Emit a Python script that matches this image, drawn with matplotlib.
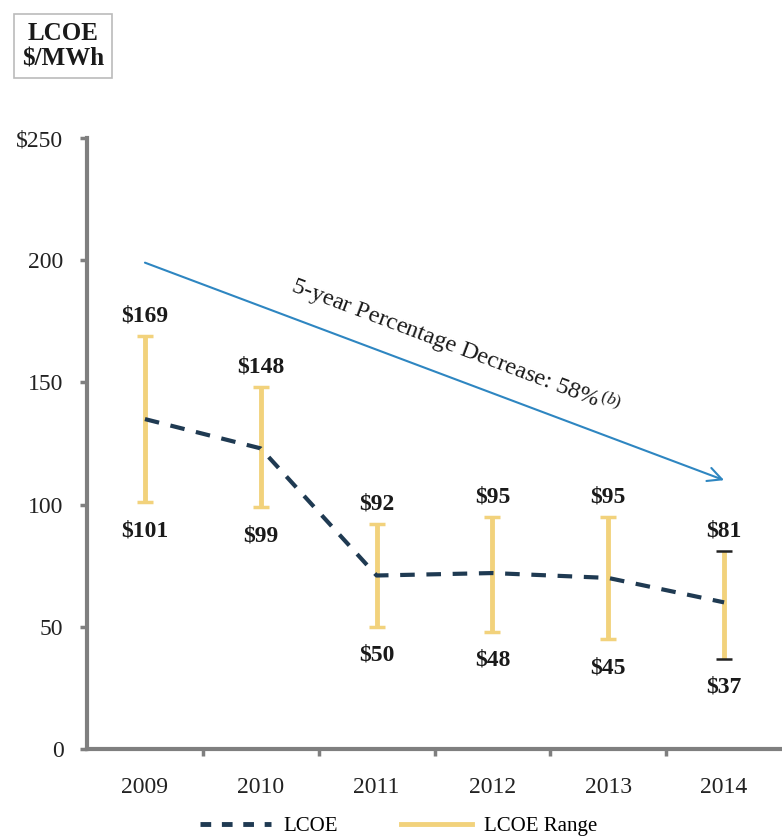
import matplotlib
matplotlib.use("Agg")
import matplotlib.pyplot as plt
import numpy as np
from matplotlib.lines import Line2D

years = ["2009", "2010", "2011", "2012", "2013", "2014"]
lcoe = [135, 123, 71, 72, 70, 60]
range_high = [169, 148, 92, 95, 95, 81]
range_low = [101, 99, 50, 48, 45, 37]
ytick_vals = [0, 50, 100, 150, 200, 250]
ytick_labels = ["0", "50", "100", "150", "200", "$250"]
arrow_start = (0, 199)
arrow_end = (5, 110)

SERIF = ["Liberation Serif", "DejaVu Serif"]
plt.rcParams['font.family'] = SERIF
plt.rcParams['mathtext.fontset'] = 'custom'
plt.rcParams['mathtext.rm'] = 'Liberation Serif'
plt.rcParams['mathtext.it'] = 'Liberation Serif:italic'

fig = plt.figure(figsize=(7.82, 8.4), dpi=100)
ax = fig.add_axes([0.1113, 0.1083, 0.8887, 0.7274])

x = np.arange(len(years))
gold = "#F2D27C"
navy = "#1F3A52"
gray = "#7F7F7F"
txt = "#1a1a1a"

mid = np.array([(h + l) / 2 for h, l in zip(range_high, range_low)])
lo_err = mid - np.array(range_low)
hi_err = np.array(range_high) - mid
n = len(years)
ax.errorbar(x[:n - 1], mid[:n - 1], yerr=[lo_err[:n - 1], hi_err[:n - 1]], fmt='none',
            ecolor=gold, elinewidth=3.5, capsize=6, capthick=2.5, zorder=2)
eb = ax.errorbar(x[n - 1:], mid[n - 1:], yerr=[lo_err[n - 1:], hi_err[n - 1:]], fmt='none',
                 ecolor=gold, elinewidth=3.5, capsize=6, capthick=1.8, zorder=2)
for cl in eb.lines[1]:
    cl.set_markeredgecolor("#222222")
    cl.set_markerfacecolor("#222222")
    cl.set_zorder(4)

ax.plot(x, lcoe, color=navy, lw=3, dashes=(3.5, 2.8), zorder=3)

for xi, h, l in zip(x, range_high, range_low):
    ax.annotate(f"${h}", (xi, h), xytext=(0, 7), textcoords="offset points",
                ha="center", va="bottom", fontsize=17, fontweight="bold", color=txt)
    ax.annotate(f"${l}", (xi, l), xytext=(0, -13), textcoords="offset points",
                ha="center", va="top", fontsize=17, fontweight="bold", color=txt)

ax.annotate("", xy=arrow_end, xytext=arrow_start,
            arrowprops=dict(arrowstyle="->", color="#2E86C1", lw=1.5,
                            mutation_scale=25, shrinkA=0, shrinkB=0))
ax.text(1.27, 190, "5-year Percentage Decrease: 58%$^{\\,\\mathit{(b)}}$", rotation=-20.7,
        rotation_mode="anchor", ha="left", va="center", fontsize=17.5, color=txt)

ax.set_xlim(-0.5, 5.5)
ax.set_ylim(0, 250)
ax.set_yticks(ytick_vals)
ax.set_yticklabels(ytick_labels, fontsize=17, color="#222222")
ax.set_xticks(x)
ax.set_xticklabels(years, fontsize=17, color="#222222")
ax.set_xticks(np.arange(0.5, 5.0, 1), minor=True)
ax.tick_params(axis='x', which='major', length=0, pad=20)
ax.tick_params(axis='x', which='minor', length=5, width=2.5, color=gray)
ax.tick_params(axis='y', which='major', length=5, width=2.5, color=gray, pad=12)
for s in ["top", "right"]:
    ax.spines[s].set_visible(False)
for s in ["left", "bottom"]:
    ax.spines[s].set_color(gray)
    ax.spines[s].set_linewidth(3)

handles = [Line2D([], [], color=navy, lw=3.5, dashes=(2.2, 2.2)),
           Line2D([], [], color=gold, lw=3.5)]
fig.legend(handles, ["LCOE", "LCOE Range"], loc="center", bbox_to_anchor=(0.51, 0.016),
           ncol=2, frameon=False, fontsize=15, handlelength=3.4, columnspacing=3,
           handletextpad=0.6)

fig.text(0.0806, 0.945, "LCOE\n$/MWh", ha="center", va="center", fontsize=18,
         fontweight="bold", color=txt, linespacing=1.15,
         bbox=dict(boxstyle="square,pad=0.3", fc="white", ec="#BBBBBB", lw=1.2))

fig.savefig("out.png", dpi=100)
